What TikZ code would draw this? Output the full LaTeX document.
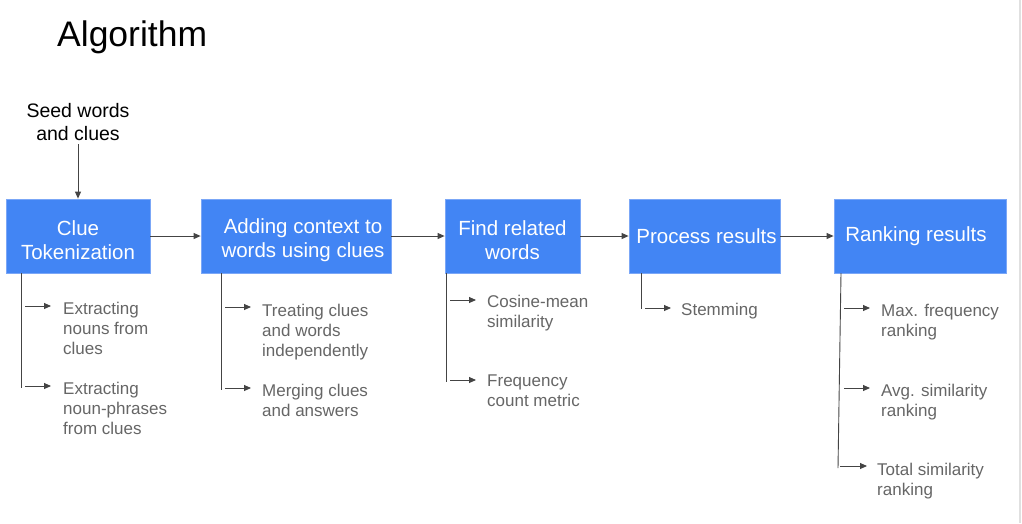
\documentclass[tikz,border=0pt]{standalone}
\usepackage{fontspec}
\setmainfont{Liberation Sans}
\usetikzlibrary{arrows.meta}
\definecolor{boxblue}{HTML}{4285F4}
\definecolor{boxedge}{HTML}{7BA7F7}
\definecolor{itemgray}{HTML}{666666}
\definecolor{arrowgray}{HTML}{444444}
\newcommand{\pushdown}{\rule{0pt}{23pt}}
\begin{document}
\begin{tikzpicture}[x=1pt,y=-1pt,
  box/.style={draw=boxedge, fill=boxblue, text=white, font=\fontsize{20.5}{24}\selectfont, align=center, inner sep=0pt, line width=0.8pt, minimum height=74pt},
  item/.style={anchor=north west, inner sep=0pt, text=itemgray, font=\fontsize{17}{20}\selectfont, align=left},
  arr/.style={-{Triangle[length=7pt,width=6pt]}, draw=arrowgray, line width=0.9pt},
  trunk/.style={draw=arrowgray, line width=0.9pt}]
\useasboundingbox (0,0) rectangle (1022,523);
\fill[white] (0,0) rectangle (1022,523);
\draw[black!12, line width=2pt] (1020,0) -- (1020,523);

\node[anchor=west, inner sep=0pt, font=\fontsize{35.5}{42}\selectfont] (title) at (57,37) {Algorithm};
\node[align=center, font=\fontsize{19.5}{23}\selectfont] (seed) at (78,122) {Seed words\\and clues};

\node[box, minimum width=144pt] (b1) at (78,236) {\pushdown Clue\\Tokenization};
\node[box, minimum width=190pt] (b2) at (296,236) {\pushdown\hspace*{14pt}Adding context to\\\hspace*{14pt}words using clues};
\node[box, minimum width=135pt] (b3) at (512.5,236) {\pushdown Find related\\words};
\node[box, minimum width=151pt] (b4) at (704.5,236) {\hspace*{4pt}Process results};
\node[box, minimum width=172pt] (b5) at (920,236) {Ranking results\hspace*{8pt}};

\draw[arr] (seed.south) -- (b1.north);
\draw[arr] (b1) -- (b2);
\draw[arr] (b2) -- (b3);
\draw[arr] (b3) -- (b4);
\draw[arr] (b4) -- (b5);

% group 1
\node[item] (i11) at (63,302) {Extracting\\nouns from\\clues};
\node[item] (i12) at (63,382) {Extracting\\noun-phrases\\from clues};
\coordinate (t1) at (21,388);
\draw[trunk] (b1.south -| t1) -- (t1);
\coordinate (a11) at (25,306);
\coordinate (a12) at (25,386);
\draw[arr] (a11) -- ([xshift=-12pt]a11 -| i11.west);
\draw[arr] (a12) -- ([xshift=-12pt]a12 -| i12.west);

% group 2
\node[item] (i21) at (262,304) {Treating clues\\and words\\independently};
\node[item] (i22) at (262,384) {Merging clues\\and answers};
\coordinate (t2) at (221,390);
\draw[trunk] (b2.south -| t2) -- (t2);
\coordinate (a21) at (225,307);
\coordinate (a22) at (225,388);
\draw[arr] (a21) -- ([xshift=-11pt]a21 -| i21.west);
\draw[arr] (a22) -- ([xshift=-11pt]a22 -| i22.west);

% group 3
\node[item] (i31) at (487,295) {Cosine-mean\\similarity};
\node[item] (i32) at (487,375) {Frequency\\count metric};
\coordinate (t3) at (446,382);
\draw[trunk] (b3.south -| t3) -- (t3);
\coordinate (a31) at (450,300);
\coordinate (a32) at (450,380);
\draw[arr] (a31) -- ([xshift=-11pt]a31 -| i31.west);
\draw[arr] (a32) -- ([xshift=-11pt]a32 -| i32.west);

% group 4
\node[item] (i41) at (681,303) {Stemming};
\coordinate (t4) at (641,309);
\draw[trunk] (b4.south -| t4) -- (t4);
\coordinate (a41) at (645,308);
\draw[arr] (a41) -- ([xshift=-10pt]a41 -| i41.west);

% group 5
\node[item] (i51) at (881,304) {Max. frequency\\ranking};
\node[item] (i52) at (881,384) {Avg. similarity\\ranking};
\node[item] (i53) at (877,463) {Total similarity\\ranking};
\coordinate (t5top) at (841,273);
\coordinate (t5) at (838,468);
\draw[trunk] (t5top) -- (t5);
\coordinate (a51) at (844,308);
\coordinate (a52) at (844,388);
\coordinate (a53) at (840,466);
\draw[arr] (a51) -- ([xshift=-11pt]a51 -| i51.west);
\draw[arr] (a52) -- ([xshift=-11pt]a52 -| i52.west);
\draw[arr] (a53) -- ([xshift=-10pt]a53 -| i53.west);
\end{tikzpicture}
\end{document}
